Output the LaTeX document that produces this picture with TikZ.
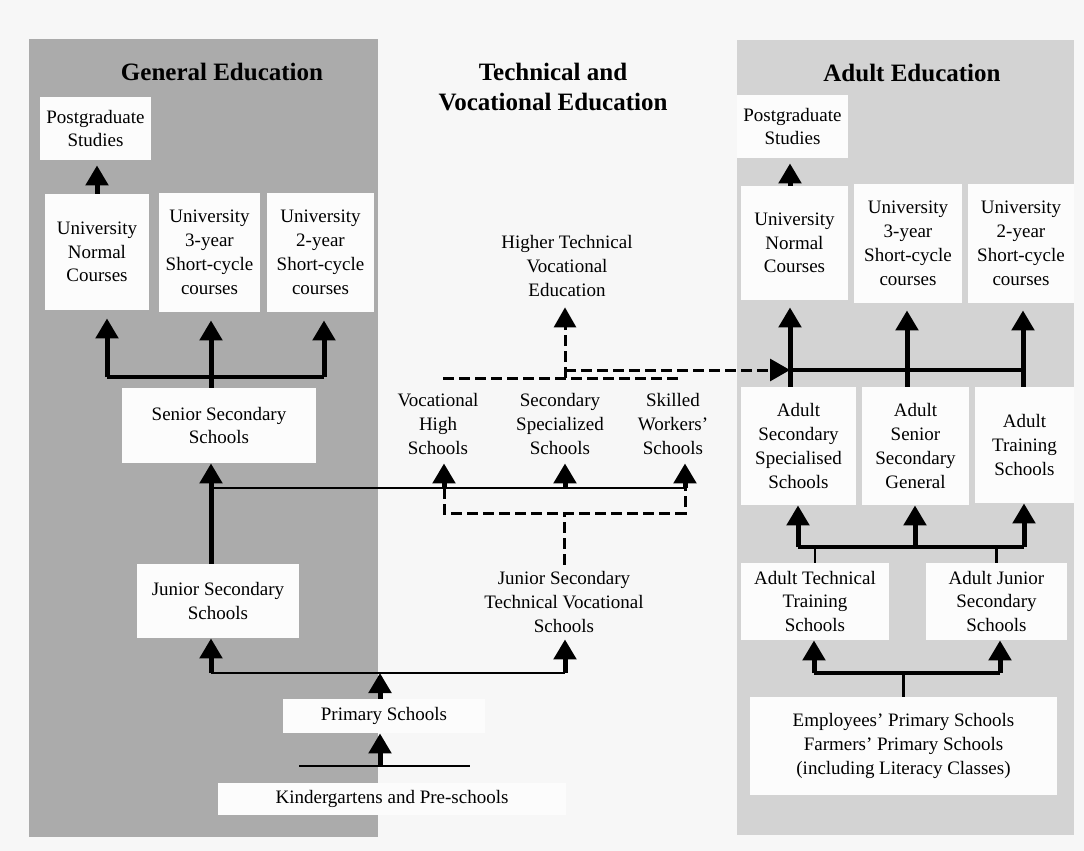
\documentclass[tikz,border=0pt]{standalone}
\usepackage{fontspec}
\setmainfont{Liberation Serif}
\usetikzlibrary{arrows.meta}

\definecolor{pagegray}{RGB}{247,247,247}
\definecolor{genpanel}{RGB}{171,171,171}
\definecolor{adpanel}{RGB}{211,211,211}
\definecolor{boxwhite}{RGB}{252,252,252}

% one unit = one pixel of the layout
\def\px{0.5pt}

\tikzset{
  box/.style 2 args={fill=boxwhite, inner sep=0pt, align=center,
    minimum width=#1*\px, minimum height=#2*\px,
    font=\fontsize{9.5}{11.9}\selectfont},
  plain/.style={inner sep=0pt, align=center, font=\fontsize{9.5}{11.9}\selectfont},
  title/.style={align=center, font=\fontsize{12.5}{15}\selectfont\bfseries},
  arr/.style={line width=2.5pt, -{Triangle[width=11pt,length=10pt]}},
  shaft/.style={line width=2.5pt},
  fork/.style={line width=2pt},
  thin/.style={line width=1.4pt},
  dashline/.style={line width=1.5pt, dash pattern=on 5.5pt off 2.5pt},
  dasharr/.style={dashline, -{Triangle[width=11pt,length=10pt]}}
}

\begin{document}
\begin{tikzpicture}[x=\px, y=-\px]

\useasboundingbox (0,0) rectangle (1084,851);

% Draw the page and the two shaded columns
\fill[pagegray] (0,0) rectangle (1084,851);
\fill[genpanel] (29,39) rectangle (378,837);
\fill[adpanel] (737,40) rectangle (1074,835);

% Column titles
\node[title] (genT) at (222,72) {General Education};
\node[title] (techT) at (553,87) {Technical and\\Vocational Education};
\node[title] (adT) at (912,73) {Adult Education};

% General education
\node[box={111}{63}] (genPG) at (95.5,128.5) {Postgraduate\\Studies};
\node[box={104}{116}] (genUN) at (97,252) {University\\Normal\\Courses};
\node[box={101}{119}] (gen3) at (209.5,252.5) {University\\3-year\\Short-cycle\\courses};
\node[box={107}{119}] (gen2) at (320.5,252.5) {University\\2-year\\Short-cycle\\courses};
\node[box={194}{75}] (genSS) at (219,425.5) {Senior Secondary\\Schools};
\node[box={162}{74}] (genJS) at (218,601) {Junior Secondary\\Schools};
\node[box={202}{34}] (prim) at (384,716) {Primary Schools};
\node[box={348}{32}] (kind) at (392,799) {Kindergartens and Pre-schools};

% Technical and vocational education
\node[plain, minimum height=82*\px] (higher) at (567,266) {Higher Technical\\Vocational\\Education};
\node[plain, minimum height=78*\px] (voc) at (438,424) {Vocational\\High\\Schools};
\node[plain, minimum height=78*\px] (spec) at (560,424) {Secondary\\Specialized\\Schools};
\node[plain, minimum height=78*\px] (skill) at (673,424) {Skilled\\Workers'\\Schools};
\node[plain, minimum height=74*\px] (jstv) at (564,602) {Junior Secondary\\Technical Vocational\\Schools};

% Adult education
\node[box={111}{63}] (adPG) at (792.5,126.5) {Postgraduate\\Studies};
\node[box={107}{114}] (adUN) at (794.5,243) {University\\Normal\\Courses};
\node[box={108}{119}] (ad3) at (908,243.5) {University\\3-year\\Short-cycle\\courses};
\node[box={106}{119}] (ad2) at (1021,243.5) {University\\2-year\\Short-cycle\\courses};
\node[box={115}{118}] (adSS) at (798.5,446) {Adult\\Secondary\\Specialised\\Schools};
\node[box={107}{118}] (adSG) at (915.5,446) {Adult\\Senior\\Secondary\\General};
\node[box={99}{116}] (adTS) at (1024.5,445) {Adult\\Training\\Schools};
\node[box={148}{77}] (adTT) at (815,601.5) {Adult Technical\\Training\\Schools};
\node[box={141}{77}] (adJS) at (996.5,601.5) {Adult Junior\\Secondary\\Schools};
\node[box={307}{98}] (emp) at (903.5,746) {Employees' Primary Schools\\Farmers' Primary Schools\\(including Literacy Classes)};

% Branch points
\coordinate (gfork) at (211,377);
\coordinate (gforkL) at (107,377);
\coordinate (gforkR) at (324,377);
\coordinate (tfork) at (211,488);
\coordinate (t1) at (444,488);
\coordinate (t2) at (565,488);
\coordinate (t3) at (685,488);
\coordinate (b1) at (444,513);
\coordinate (b3) at (685,513);
\coordinate (pfork) at (380,673);
\coordinate (pforkL) at (211,673);
\coordinate (pforkR) at (565,673);
\coordinate (kl) at (299,766);
\coordinate (kr) at (470,766);
\coordinate (kmid) at (380,766);
\coordinate (d1) at (443,378);
\coordinate (d2) at (565,378);
\coordinate (d3) at (682,378);
\coordinate (d2u) at (565,370);
\coordinate (a1) at (790,370);
\coordinate (a2) at (907,370);
\coordinate (a3) at (1023,370);
\coordinate (m1) at (798,547);
\coordinate (m2) at (915,547);
\coordinate (m3) at (1024,547);
\coordinate (n1) at (814,673);
\coordinate (n2) at (1000,673);

% General education arrows
\draw[arr, shorten >=2.5pt] (genUN.north) -- (genUN.north |- genPG.south);
\draw[shaft] (gfork |- genSS.north) -- (gfork);
\draw[fork] (gforkL) -- (gforkR);
\foreach \pos/\upp in {gforkL/genUN, gfork/gen3, gforkR/gen2}
  \draw[arr, shorten >=4pt] (\pos) -- (\pos |- \upp.south);
\draw[arr] (gfork |- genJS.north) -- (gfork |- genSS.south);

% Routes into the technical schools
\draw[thin] (tfork) -- (t3);
\foreach \pos/\upp in {t1/voc, t2/spec, t3/skill}
  \draw[arr] (\pos) -- (\pos |- \upp.south);
\draw[dashline] (t1) -- (b1) -- (b3) -- (t3);
\draw[dashline] (jstv.north) -- (jstv.north |- b1);

% Primary and pre-school level
\draw[thin] (pforkL) -- (pforkR);
\draw[arr] (pfork |- prim.north) -- (pfork);
\draw[arr] (pforkL) -- (pforkL |- genJS.south);
\draw[arr] (pforkR) -- (pforkR |- jstv.south);
\draw[thin] (kl) -- (kr);
\draw[arr] (kmid) -- (kmid |- prim.south);

% Dashed routes from the technical schools
\draw[dashline] (d1) -- (d3);
\draw[dasharr] (d2) -- (d2 |- higher.south);
\draw[dasharr] (d2u) -- (a1);

% Adult education arrows
\draw[arr, shorten >=2.5pt] (a1 |- adUN.north) -- (a1 |- adPG.south);
\draw[fork] (a1) -- (a3);
\foreach \pos/\low/\upp in {a1/adSS/adUN, a2/adSG/ad3, a3/adTS/ad2}
  \draw[arr, shorten >=3.5pt] (\pos |- \low.north) -- (\pos |- \upp.south);
\draw[fork] (m1) -- (m3);
\foreach \pos/\upp in {m1/adSS, m2/adSG, m3/adTS}
  \draw[arr] (\pos) -- (\pos |- \upp.south);
\draw[thin] (adTT.north) -- (adTT.north |- m1);
\draw[thin] (adJS.north) -- (adJS.north |- m1);
\draw[fork] (n1) -- (n2);
\draw[arr] (n1) -- (n1 |- adTT.south);
\draw[arr] (n2) -- (n2 |- adJS.south);
\draw[thin] (emp.north) -- (emp.north |- n1);

\end{tikzpicture}
\end{document}
